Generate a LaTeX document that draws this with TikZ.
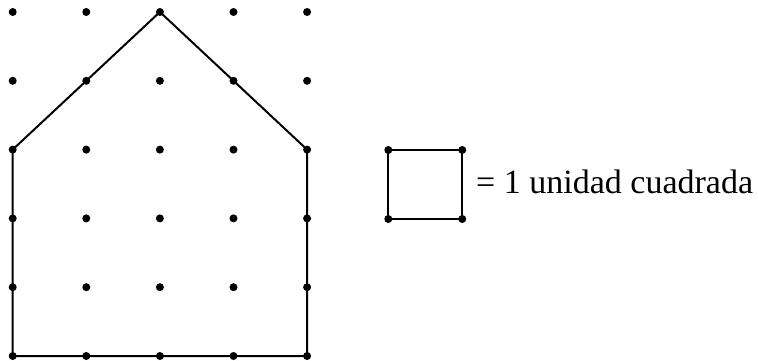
\documentclass[tikz,border=0pt]{standalone}
\usepackage{fontspec}
\setmainfont{Liberation Serif}
\begin{document}
\begin{tikzpicture}[x=1pt,y=1pt,
  dot/.style={circle,fill=black,inner sep=0pt,minimum size=8pt},
  edge/.style={line width=2pt,line join=miter}]
\useasboundingbox (0,0) rectangle (758,360);
\foreach \i in {0,...,4}{
  \foreach \j in {0,...,5}{
    \node[dot] (d\i\j) at ({12.7+73.6*\i},{360-12-68.8*\j}) {};
  }
}
\draw[edge] (d02.center) -- (d11.center) -- (d20.center) -- (d31.center) -- (d42.center)
  -- (d43.center) -- (d44.center) -- (d45.center)
  -- (d35.center) -- (d25.center) -- (d15.center) -- (d05.center)
  -- (d04.center) -- (d03.center) -- cycle;
% unit square
\node[dot] (s1) at (388.3,210) {};
\node[dot] (s2) at (462.3,210) {};
\node[dot] (s3) at (462.3,141) {};
\node[dot] (s4) at (388.3,141) {};
\draw[edge] (s1.center) -- (s2.center) -- (s3.center) -- (s4.center) -- cycle;
\node[anchor=base west,inner sep=0pt,font=\fontsize{34}{40}\selectfont] (lbl) at (476,167) {= 1 unidad cuadrada};
\end{tikzpicture}
\end{document}
